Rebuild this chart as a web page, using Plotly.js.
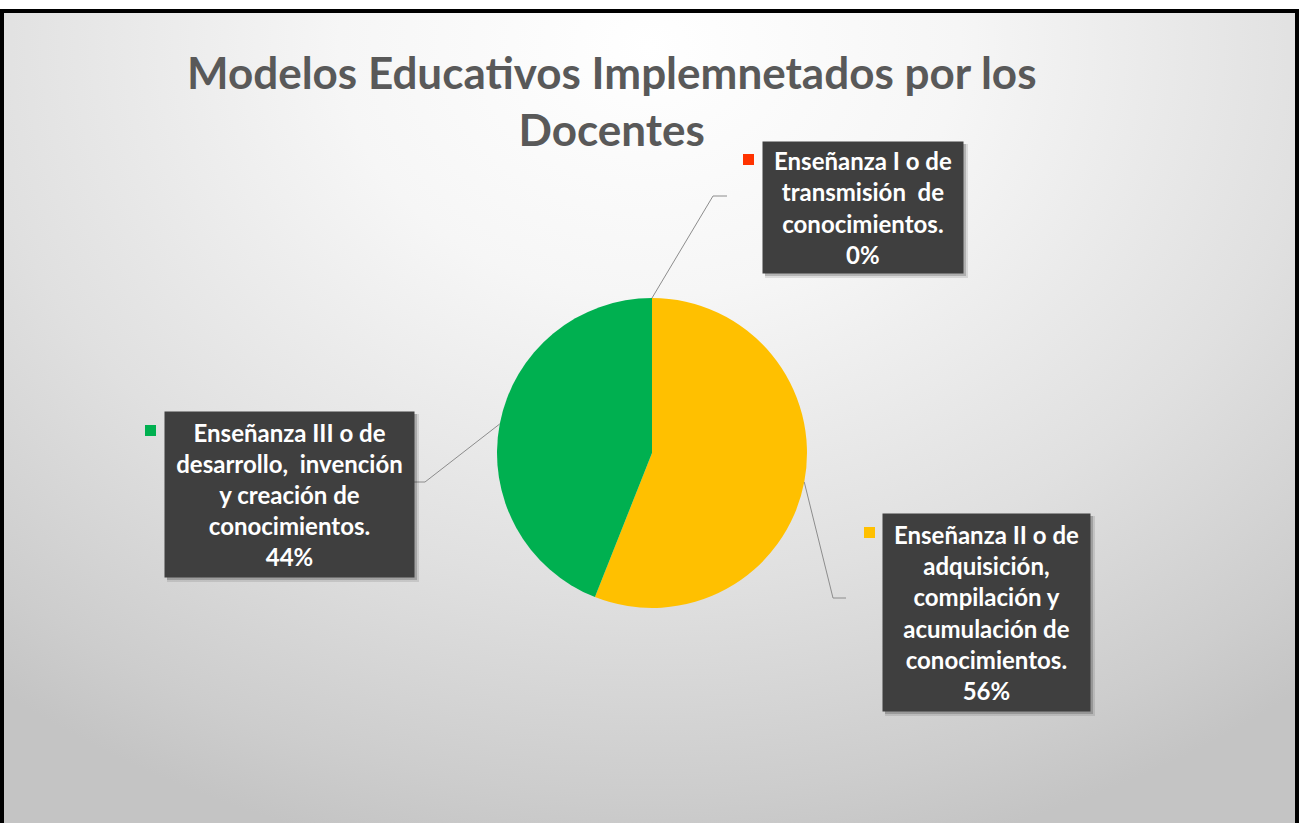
<!DOCTYPE html>
<html><head><meta charset="utf-8">
<script src="https://cdn.plot.ly/plotly-3.0.1.min.js"></script>
<style>
html,body{margin:0;padding:0;background:#fff;width:1299px;height:823px;overflow:hidden}
#frame{position:absolute;left:0;top:9px;width:1291px;height:830px;border:4px solid #000;
background:radial-gradient(ellipse 80% 100% at 50% 4%, #ffffff 0%, #f6f6f6 30%, #e0e0e0 65%, #cdcdcd 90%, #c4c4c4 100%);}
#chart{position:absolute;left:0;top:0;width:1299px;height:823px}
</style></head>
<body><div id="frame"></div><div id="chart"></div>
<script>
// ---- data ----
const categories = [
  "Enseñanza I o de<br>transmisión  de<br>conocimientos.",
  "Enseñanza II o de<br>adquisición,<br>compilación y<br>acumulación de<br>conocimientos.",
  "Enseñanza III o de<br>desarrollo,  invención<br>y creación de<br>conocimientos."
];
const values = [0, 56, 44];
const colors = ["#ff3300", "#ffc000", "#00b050"];
const chartTitle = "Modelos Educativos Implemnetados por los<br>Docentes";

// ---- layout helpers ----
const W = 1299, H = 823;
const px = x => x / W, py = y => 1 - y / H;
const cx = 652, cy = 453, R = 155;

const boxes = [
  {left:762, top:141, w:200, h:131, elbow:[713,196], end:[727,196], sq:[743,154]},
  {left:882, top:513, w:207, h:197, elbow:[833,598], end:[846,598], sq:[864,527]},
  {left:164, top:411, w:249, h:165, elbow:[425,482], end:[413,482], sq:[145,425]}
];

const total = values.reduce((a,b)=>a+b,0);
const annotations = [];
const shapes = [];
let cum = 0;
values.forEach((v,i)=>{
  const a = (cum + v/2)/total * 2*Math.PI;
  cum += v;
  const sx = cx + R*Math.sin(a), sy = cy - R*Math.cos(a);
  const b = boxes[i];
  const pct = Math.round(v/total*100) + "%";
  const txt = "<b>" + categories[i] + "<br>" + pct + "</b>";
  // leader line
  shapes.push({type:'line', xref:'paper', yref:'paper', x0:px(sx), y0:py(sy), x1:px(b.elbow[0]), y1:py(b.elbow[1]), line:{color:'#8c8c8c', width:1}});
  shapes.push({type:'line', xref:'paper', yref:'paper', x0:px(b.elbow[0]), y0:py(b.elbow[1]), x1:px(b.end[0]), y1:py(b.end[1]), line:{color:'#8c8c8c', width:1}});
  // legend key square
  shapes.push({type:'rect', xref:'paper', yref:'paper', x0:px(b.sq[0]), y0:py(b.sq[1]), x1:px(b.sq[0]+11), y1:py(b.sq[1]+11), fillcolor:colors[i], line:{width:0}});
  // shadow (soft)
  shapes.push({type:'rect', xref:'paper', yref:'paper', x0:px(b.left+3), y0:py(b.top+3), x1:px(b.left+b.w+6), y1:py(b.top+b.h+6), fillcolor:'rgba(0,0,0,0.10)', line:{width:0}});
  shapes.push({type:'rect', xref:'paper', yref:'paper', x0:px(b.left+3), y0:py(b.top+3), x1:px(b.left+b.w+4), y1:py(b.top+b.h+4), fillcolor:'rgba(0,0,0,0.18)', line:{width:0}});
  // box
  annotations.push({xref:'paper', yref:'paper', x:px(b.left), y:py(b.top), xanchor:'left', yanchor:'top',
    width:b.w, height:b.h, text:txt, showarrow:false, bgcolor:'#3f3f3f', borderpad:0, align:'center', valign:'middle',
    font:{family:'Lato, Calibri, sans-serif', size:24, color:'#ffffff'}});
});

annotations.push({xref:'paper', yref:'paper', x:px(611), y:py(44), xanchor:'center', yanchor:'top',
  text:"<b>"+chartTitle+"</b>", showarrow:false, align:'center',
  font:{family:'Lato, Calibri, sans-serif', size:44, color:'#595959'}});

const trace = {
  type:'pie', labels:categories, values:values, sort:false, direction:'clockwise', rotation:0,
  marker:{colors:colors, line:{width:0}}, textinfo:'none', hoverinfo:'none',
  domain:{x:[px(cx-R), px(cx+R)], y:[py(cy+R), py(cy-R)]}
};

Plotly.newPlot('chart', [trace], {
  width:W, height:H, margin:{l:0,r:0,t:0,b:0}, showlegend:false,
  paper_bgcolor:'rgba(0,0,0,0)', plot_bgcolor:'rgba(0,0,0,0)',
  annotations:annotations, shapes:shapes
}, {displayModeBar:false, staticPlot:true});
</script>
</body></html>
